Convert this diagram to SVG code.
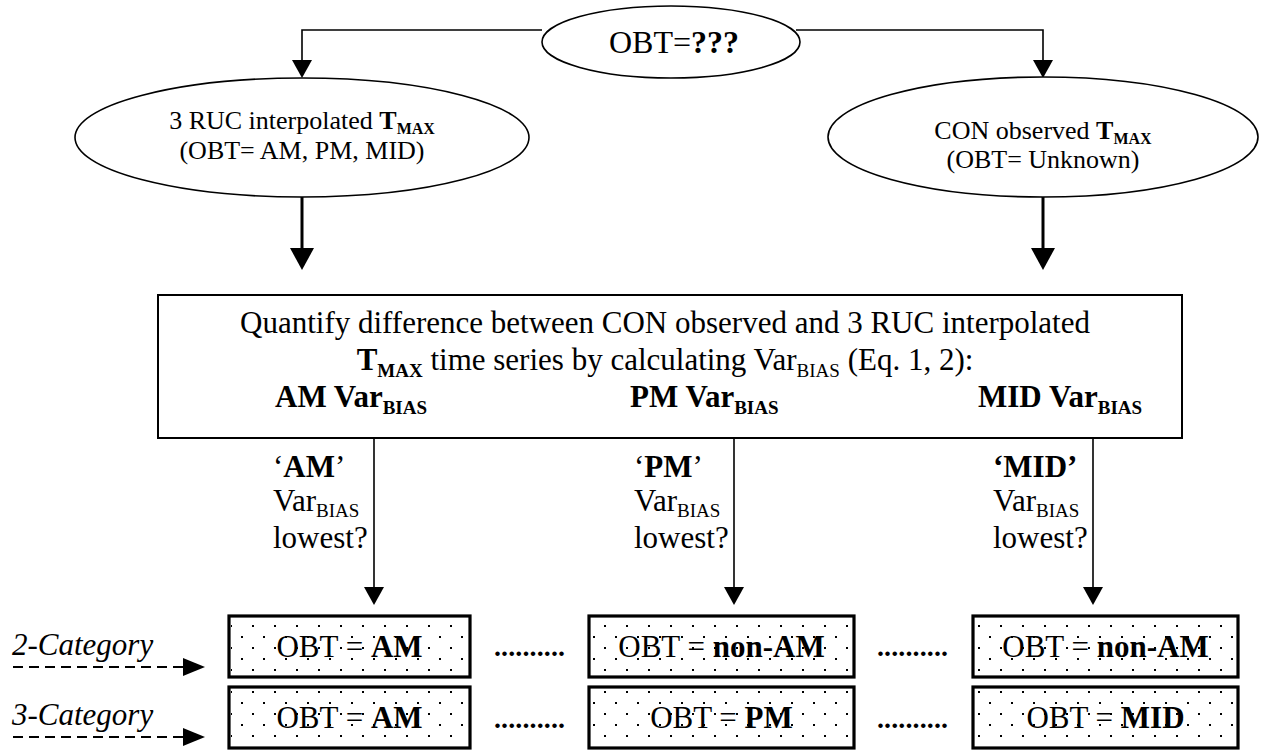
<svg xmlns="http://www.w3.org/2000/svg" width="1261" height="750" viewBox="0 0 1261 750">
<style>
.t{font-family:"Liberation Serif","Times New Roman",serif;fill:#000}
.b{font-weight:bold}
.i{font-style:italic}
.s31{font-size:31px}
.s26{font-size:26px}
.node{fill:#fff;stroke:#000;stroke-width:1.6}
.box{fill:#fff;stroke:#000;stroke-width:2}
.cat{fill:#fff;stroke:#000;stroke-width:3.2}
.dotfill{fill:url(#dots);stroke:none}
.conn{fill:none;stroke:#000;stroke-width:1.6}
.thick{fill:none;stroke:#000;stroke-width:3}
.dash{fill:none;stroke:#000;stroke-width:2;stroke-dasharray:10,6}
</style>
<defs>
<pattern id="dots" x="241" y="625" width="22" height="22" patternUnits="userSpaceOnUse">
<rect x="11" y="0" width="2" height="2" fill="#000"/>
<rect x="0" y="11" width="2" height="2" fill="#000"/>
</pattern>
<marker id="ah" viewBox="0 0 18 20" refX="0" refY="10" markerWidth="18" markerHeight="20" markerUnits="userSpaceOnUse" orient="auto">
<path d="M0,0 L18,10 L0,20 z" fill="#000"/>
</marker>
<marker id="ahBig" viewBox="0 0 22 24" refX="0" refY="12" markerWidth="22" markerHeight="24" markerUnits="userSpaceOnUse" orient="auto">
<path d="M0,0 L22,12 L0,24 z" fill="#000"/>
</marker>
<marker id="ahDash" viewBox="0 0 22 18" refX="0" refY="9" markerWidth="22" markerHeight="18" markerUnits="userSpaceOnUse" orient="auto">
<path d="M0,0 L22,9 L0,18 z" fill="#000"/>
</marker>
</defs>

<g id="connectors">
<path class="conn" d="M542,30 H302 V60" marker-end="url(#ah)"/>
<path class="conn" d="M796,30 H1043 V60" marker-end="url(#ah)"/>
<path class="thick" d="M302,197 V248" marker-end="url(#ahBig)"/>
<path class="thick" d="M1043,197 V248" marker-end="url(#ahBig)"/>
<path class="conn" d="M374,438 V587" marker-end="url(#ah)"/>
<path class="conn" d="M734,438 V587" marker-end="url(#ah)"/>
<path class="conn" d="M1093,438 V587" marker-end="url(#ah)"/>
<path class="dash" d="M13,667 H183" marker-end="url(#ahDash)"/>
<path class="dash" d="M13,737 H183" marker-end="url(#ahDash)"/>
</g>

<g id="node-obt">
<ellipse class="node" cx="671" cy="42" rx="129" ry="36"/>
<text class="t" x="674" y="53" font-size="32" text-anchor="middle">OBT=<tspan class="b">???</tspan></text>
</g>

<g id="node-ruc">
<ellipse class="node" cx="302" cy="137.5" rx="227" ry="59.5"/>
<text class="t s26" x="302" y="129" text-anchor="middle">3 RUC interpolated <tspan class="b">T</tspan><tspan class="b" font-size="16" dy="5">MAX</tspan></text>
<text class="t s26" x="302" y="159" text-anchor="middle">(OBT= AM, PM, MID)</text>
</g>

<g id="node-con">
<ellipse class="node" cx="1043" cy="137" rx="215" ry="60"/>
<text class="t s26" x="1043" y="139" text-anchor="middle">CON observed <tspan class="b">T</tspan><tspan class="b" font-size="16" dy="5">MAX</tspan></text>
<text class="t s26" x="1043" y="168" text-anchor="middle">(OBT= Unknown)</text>
</g>

<g id="node-quantify">
<rect class="box" x="158" y="295" width="1024" height="143"/>
<text class="t s31" x="665" y="333" text-anchor="middle">Quantify difference between CON observed and 3 RUC interpolated</text>
<text class="t s31" x="665" y="370" text-anchor="middle"><tspan class="b">T</tspan><tspan class="b" font-size="19" dy="7">MAX</tspan><tspan dy="-7"> time series by calculating Var</tspan><tspan font-size="19" dy="7">BIAS</tspan><tspan dy="-7"> (Eq. 1, 2):</tspan></text>
<text class="t s31 b" x="275" y="407">AM Var<tspan font-size="19" dy="7">BIAS</tspan></text>
<text class="t s31 b" x="630" y="407">PM Var<tspan font-size="19" dy="7">BIAS</tspan></text>
<text class="t s31 b" x="978" y="407">MID Var<tspan font-size="19" dy="7">BIAS</tspan></text>
</g>

<g id="label-am">
<text class="t s31" x="273" y="477">‘<tspan class="b">AM</tspan>’</text>
<text class="t s31" x="273" y="511">Var<tspan font-size="19" dy="6">BIAS</tspan></text>
<text class="t s31" x="273" y="548">lowest?</text>
</g>
<g id="label-pm">
<text class="t s31" x="634" y="477">‘<tspan class="b">PM</tspan>’</text>
<text class="t s31" x="634" y="511">Var<tspan font-size="19" dy="6">BIAS</tspan></text>
<text class="t s31" x="634" y="548">lowest?</text>
</g>
<g id="label-mid">
<text class="t s31 b" x="993" y="477">‘MID’</text>
<text class="t s31" x="993" y="511">Var<tspan font-size="19" dy="6">BIAS</tspan></text>
<text class="t s31" x="993" y="548">lowest?</text>
</g>

<g id="label-2cat">
<text class="t s31 i" x="12" y="655">2-Category</text>
</g>
<g id="label-3cat">
<text class="t s31 i" x="12" y="725">3-Category</text>
</g>

<g id="node-2cat-am">
<rect class="cat" x="229" y="616" width="241" height="61"/>
<text class="t s31" x="349.5" y="657" text-anchor="middle">OBT = <tspan class="b">AM</tspan></text>
<rect class="dotfill" x="231" y="618" width="237" height="57"/>
</g>
<g id="node-2cat-pm">
<rect class="cat" x="589" y="616" width="265" height="61"/>
<text class="t s31" x="721.5" y="657" text-anchor="middle">OBT = <tspan class="b">non-AM</tspan></text>
<rect class="dotfill" x="591" y="618" width="261" height="57"/>
</g>
<g id="node-2cat-mid">
<rect class="cat" x="973" y="616" width="265" height="61"/>
<text class="t s31" x="1105.5" y="657" text-anchor="middle">OBT = <tspan class="b">non-AM</tspan></text>
<rect class="dotfill" x="975" y="618" width="261" height="57"/>
</g>
<g id="node-3cat-am">
<rect class="cat" x="229" y="687" width="241" height="61"/>
<text class="t s31" x="349.5" y="728" text-anchor="middle">OBT = <tspan class="b">AM</tspan></text>
<rect class="dotfill" x="231" y="689" width="237" height="57"/>
</g>
<g id="node-3cat-pm">
<rect class="cat" x="589" y="687" width="265" height="61"/>
<text class="t s31" x="721.5" y="728" text-anchor="middle">OBT = <tspan class="b">PM</tspan></text>
<rect class="dotfill" x="591" y="689" width="261" height="57"/>
</g>
<g id="node-3cat-mid">
<rect class="cat" x="973" y="687" width="265" height="61"/>
<text class="t s31" x="1105.5" y="728" text-anchor="middle">OBT = <tspan class="b">MID</tspan></text>
<rect class="dotfill" x="975" y="689" width="261" height="57"/>
</g>

<g id="leaders">
<text class="t b" font-size="28" x="494" y="656" textLength="71">..........</text>
<text class="t b" font-size="28" x="877" y="656" textLength="71">..........</text>
<text class="t b" font-size="28" x="494" y="728" textLength="71">..........</text>
<text class="t b" font-size="28" x="877" y="728" textLength="71">..........</text>
</g>
</svg>
